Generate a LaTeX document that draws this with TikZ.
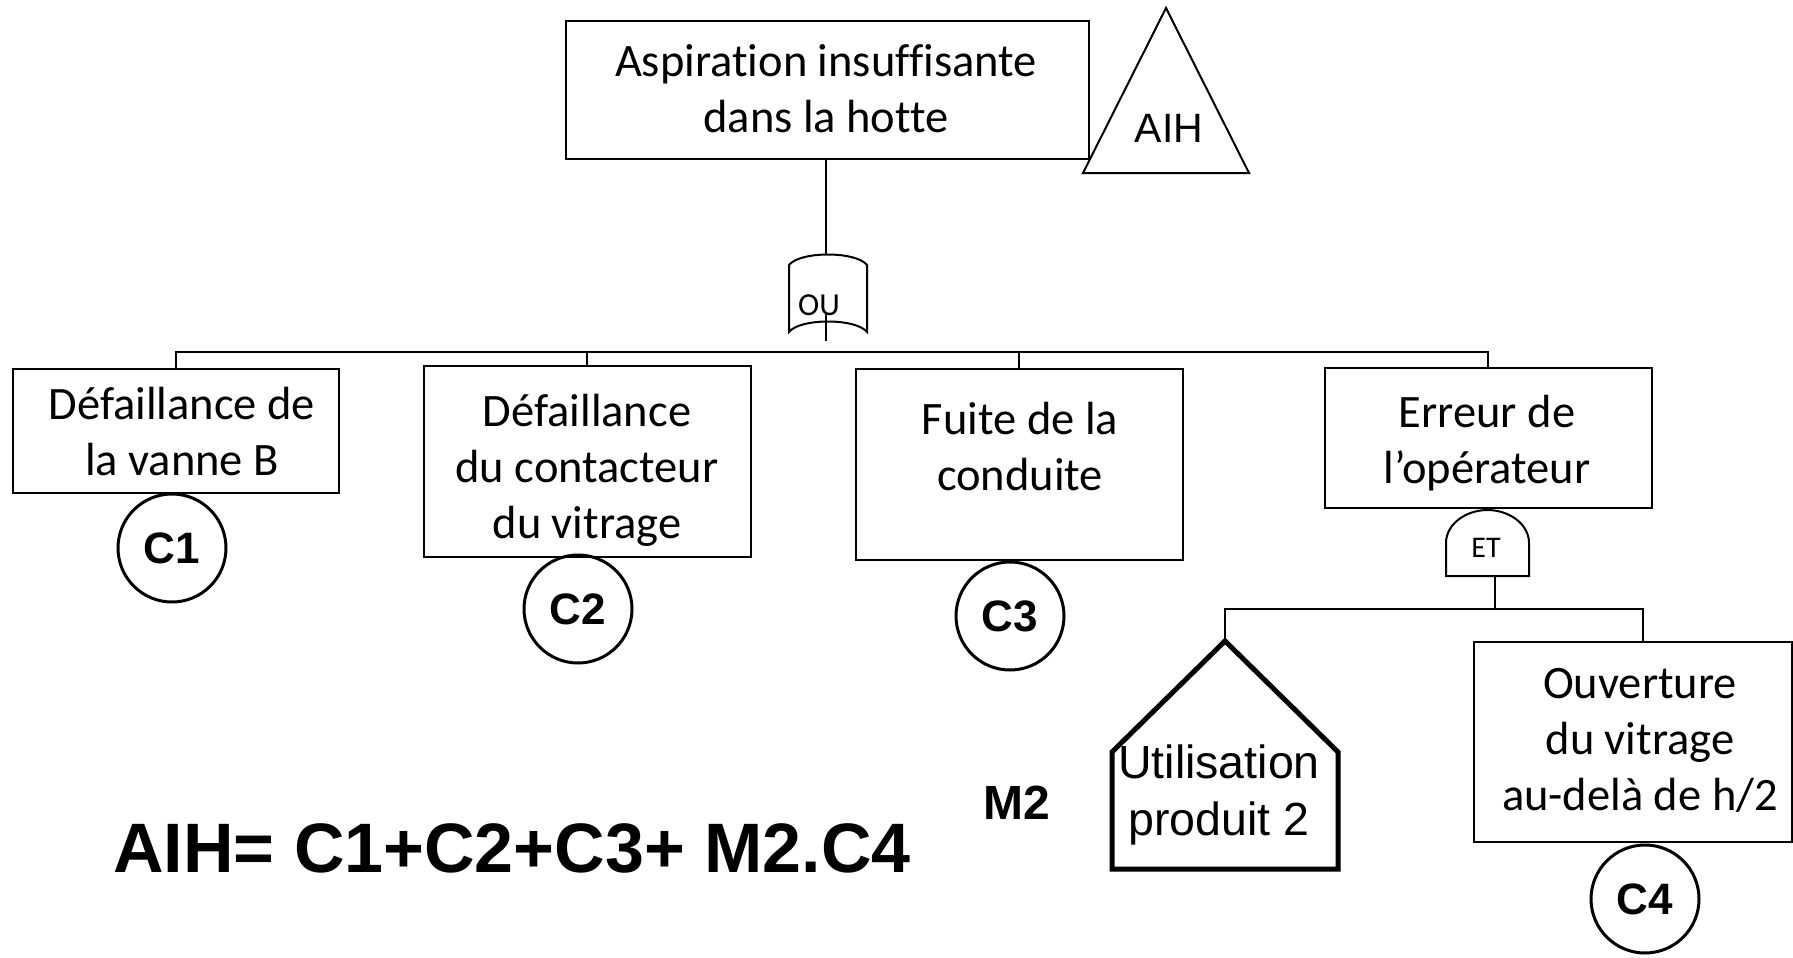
\documentclass[tikz,border=0pt]{standalone}
\usepackage{fontspec}
\setmainfont{Carlito}[Ligatures=NoCommon]
\newfontfamily\arialf{Liberation Sans}
\begin{document}
\begin{tikzpicture}[x=1pt,y=-1pt,
  box/.style={draw, line width=2pt, inner sep=0pt},
  txt/.style={font=\fontsize{46.5}{56}\selectfont, align=center, inner sep=0pt},
  cev/.style={circle, draw, line width=3pt, minimum size=108pt, inner sep=0pt, font=\arialf\bfseries\fontsize{44}{44}\selectfont},
  wire/.style={line width=2pt},
  gate/.style={line width=2pt}]
\useasboundingbox (0,0) rectangle (1793,958);

% top event
\node[box, minimum width=523pt, minimum height=138pt] (top) at (827,90) {};
\node[txt] (toptxt) at (826,89) {Aspiration insuffisante\\dans la hotte};
\draw[line width=2pt] (1166,8) -- (1249,173) -- (1083,173) -- cycle;
\node[inner sep=0pt, font=\arialf\fontsize{41}{41}\selectfont] (aih) at (1169,128) {AIH};

% OU gate
\coordinate (outop) at (826,255);
\coordinate (oubot) at (826,314);
\draw[gate] (789,265) .. controls (800,251) and (856,251) .. (867,265) -- (867,332)
  .. controls (856,318) and (800,318) .. (789,332) -- cycle;
\node[inner sep=0pt, font=\fontsize{32}{32}\selectfont] (ou) at (819,305) {OU};
\draw[wire] (top.south -| outop) -- (outop);
\draw[wire] (oubot) -- (826,341);

% first level boxes
\coordinate (bus) at (0,352);
\node[box, minimum width=326pt, minimum height=124pt] (b1) at (176,431) {};
\node[txt] (b1t) at (182,432) {Défaillance de\\la vanne B};
\node[box, minimum width=327pt, minimum height=191pt] (b2) at (587,461.5) {};
\node[txt] (b2t) at (587,470) {Défaillance\\du contacteur\\du vitrage};
\node[box, minimum width=327pt, minimum height=191pt] (b3) at (1019,464.5) {};
\node[txt] (b3t) at (1020,447) {Fuite de la\\conduite};
\node[box, minimum width=327pt, minimum height=140pt] (b4) at (1488,438) {};
\node[txt] (b4t) at (1487,443) {Erreur de\\l’opérateur};

\draw[wire] (b1.north) -- (b1.north |- bus) -- (b4.north |- bus) -- (b4.north);
\draw[wire] (b2.north) -- (b2.north |- bus);
\draw[wire] (b3.north) -- (b3.north |- bus);

% circles
\node[cev] (c1) at (172,548) {C1};
\node[cev] (c2) at (578,609) {C2};
\node[cev] (c3) at (1010,616) {C3};
\node[cev] (c4) at (1645,899) {C4};

% ET gate
\draw[gate] (1446,576) -- (1446,543) .. controls (1446,524) and (1466,510) .. (1487.5,510)
  .. controls (1509,510) and (1529,524) .. (1529,543) -- (1529,576) -- cycle;
\node[inner sep=0pt, font=\fontsize{30}{30}\selectfont] (et) at (1486,548) {ET};
\coordinate (etbot) at (1495,576);
\coordinate (bus2) at (0,609);
\draw[wire] (etbot) -- (etbot |- bus2);

% second level
\coordinate (apex) at (1225,641);
\draw[line width=5pt, line join=miter] (apex) -- (1338,752) -- (1338,869) -- (1112,869) -- (1112,752) -- cycle;
\node[inner sep=0pt, align=center, font=\arialf\fontsize{46.5}{57}\selectfont] (house) at (1219,795) {Utilisation\\produit 2};
\node[box, minimum width=318pt, minimum height=200pt] (b5) at (1633,742) {};
\node[txt] (b5t) at (1640,740) {Ouverture\\du vitrage\\au-delà de h/2};
\coordinate (b5in) at (1643,642);
\draw[wire] (apex) -- (apex |- bus2) -- (b5in |- bus2) -- (b5in);

% formula
\node[inner sep=0pt, anchor=base west, font=\arialf\bfseries\fontsize{70}{70}\selectfont] (formula) at (113,872) {AIH= C1+C2+C3+ M2.C4};
\node[inner sep=0pt, font=\arialf\bfseries\fontsize{48}{48}\selectfont] (m2) at (1017,803) {M2};
\end{tikzpicture}
\end{document}
